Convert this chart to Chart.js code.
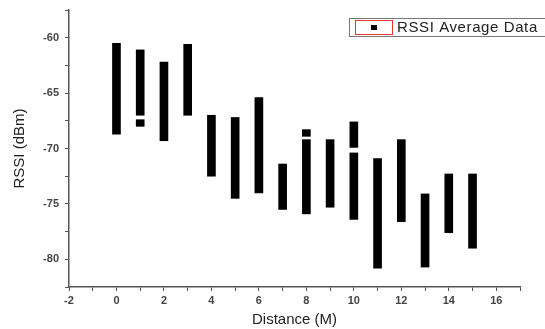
<!DOCTYPE html>
<html>
<head>
<meta charset="utf-8">
<script src="https://cdn.jsdelivr.net/npm/chart.js@4.4.1/dist/chart.umd.min.js"></script>
<style>
  html, body { margin: 0; padding: 0; background: #fff; }
  #wrap { width: 545px; height: 329px; position: relative; }
</style>
</head>
<body>
<div id="wrap"><canvas id="rssiChart" width="545" height="329"></canvas></div>
<script>
// distances (m) and the RSSI range seen at each one
const distances = [0, 1, 2, 3, 4, 5, 6, 7, 8, 9, 10, 11, 12, 13, 14, 15];
const rssiTop = [-60.5, -61.1, -62.2, -60.6, -67.0, -67.2, -65.4, -71.4, -69.2, -69.2, -70.4, -70.9, -69.2, -74.1, -72.3, -72.3];
const rssiBottom = [-68.7, -67.0, -69.3, -67.0, -72.5, -74.5, -74.0, -75.5, -75.9, -75.3, -76.4, -80.8, -76.6, -80.7, -77.6, -79.0];

// short extra pieces that sit apart from the main bar
const extraDistances = [1, 8, 10];
const extraTop = [-67.4, -68.3, -67.6];
const extraBottom = [-68.0, -68.9, -69.9];

const xTicks = [-2, 0, 2, 4, 6, 8, 10, 12, 14, 16];
const yTicks = [-80, -75, -70, -65, -60];
const legendLabel = 'RSSI Average Data';

const font = 'Arial, "Liberation Sans", sans-serif';

const mainData = distances.map((d, i) => ({ x: d, y: [rssiBottom[i], rssiTop[i]] }));
const extraData = extraDistances.map((d, i) => ({ x: d, y: [extraBottom[i], extraTop[i]] }));

// legend box like the original: grey frame, red inner box with a black square
const legendBox = {
  id: 'legendBox',
  afterDraw(chart) {
    const c = chart.ctx;
    c.save();
    c.fillStyle = '#fff';
    c.fillRect(349, 18, 200, 18);
    c.strokeStyle = '#777';
    c.lineWidth = 1;
    c.strokeRect(349.5, 18.5, 200, 18);
    c.strokeStyle = '#e33';
    c.strokeRect(355.5, 20.5, 37, 14);
    c.fillStyle = '#000';
    c.fillRect(371, 25, 6, 5);
    c.fillStyle = '#222';
    c.font = '15px ' + font;
    if ('letterSpacing' in c) c.letterSpacing = '0.6px';
    c.textBaseline = 'middle';
    c.fillText(legendLabel, 397, 28);
    c.restore();
  }
};

window.onload = function() {
  const ctx = document.getElementById('rssiChart').getContext('2d');
  new Chart(ctx, {
    type: 'bar',
    data: {
      datasets: [
        { label: legendLabel, data: mainData, backgroundColor: '#000', barThickness: 8 },
        { label: 'extra', data: extraData, backgroundColor: '#000', barThickness: 8 }
      ]
    },
    options: {
      responsive: false,
      animation: false,
      grouped: false,
      layout: { padding: { top: 10, right: 25, left: 0, bottom: 0 } },
      plugins: { legend: { display: false }, tooltip: { enabled: false } },
      scales: {
        x: {
          type: 'linear',
          offset: false,
          min: -2,
          max: 17,
          afterFit: s => { s.height = 42; s.paddingLeft = 0; s.paddingRight = 0; },
          border: { color: '#555', width: 1.5 },
          grid: { offset: false, drawOnChartArea: false, drawTicks: true, tickLength: 4, color: '#555' },
          ticks: {
            stepSize: 1,
            autoSkip: false,
            maxRotation: 0,
            padding: 3,
            color: '#444',
            font: { family: font, size: 11, weight: 'bold' },
            callback: v => xTicks.includes(v) ? String(v) : ''
          },
          title: {
            display: true,
            text: 'Distance (M)',
            color: '#222',
            font: { family: font, size: 15 },
            padding: { top: 0, bottom: 0 }
          }
        },
        y: {
          min: -82.5,
          max: -57.5,
          afterFit: s => { s.width = 69; s.paddingTop = 0; s.paddingBottom = 0; },
          border: { color: '#555', width: 1.5 },
          grid: { drawOnChartArea: false, drawTicks: true, tickLength: 4, color: '#555' },
          ticks: {
            stepSize: 2.5,
            autoSkip: false,
            padding: 6,
            color: '#444',
            font: { family: font, size: 11, weight: 'bold' },
            callback: v => yTicks.includes(v) ? String(v) : ''
          },
          title: {
            display: true,
            text: 'RSSI (dBm)',
            color: '#222',
            font: { family: font, size: 15 },
            padding: { top: 11, bottom: 0 }
          }
        }
      }
    },
    plugins: [legendBox]
  });
};
</script>
</body>
</html>
